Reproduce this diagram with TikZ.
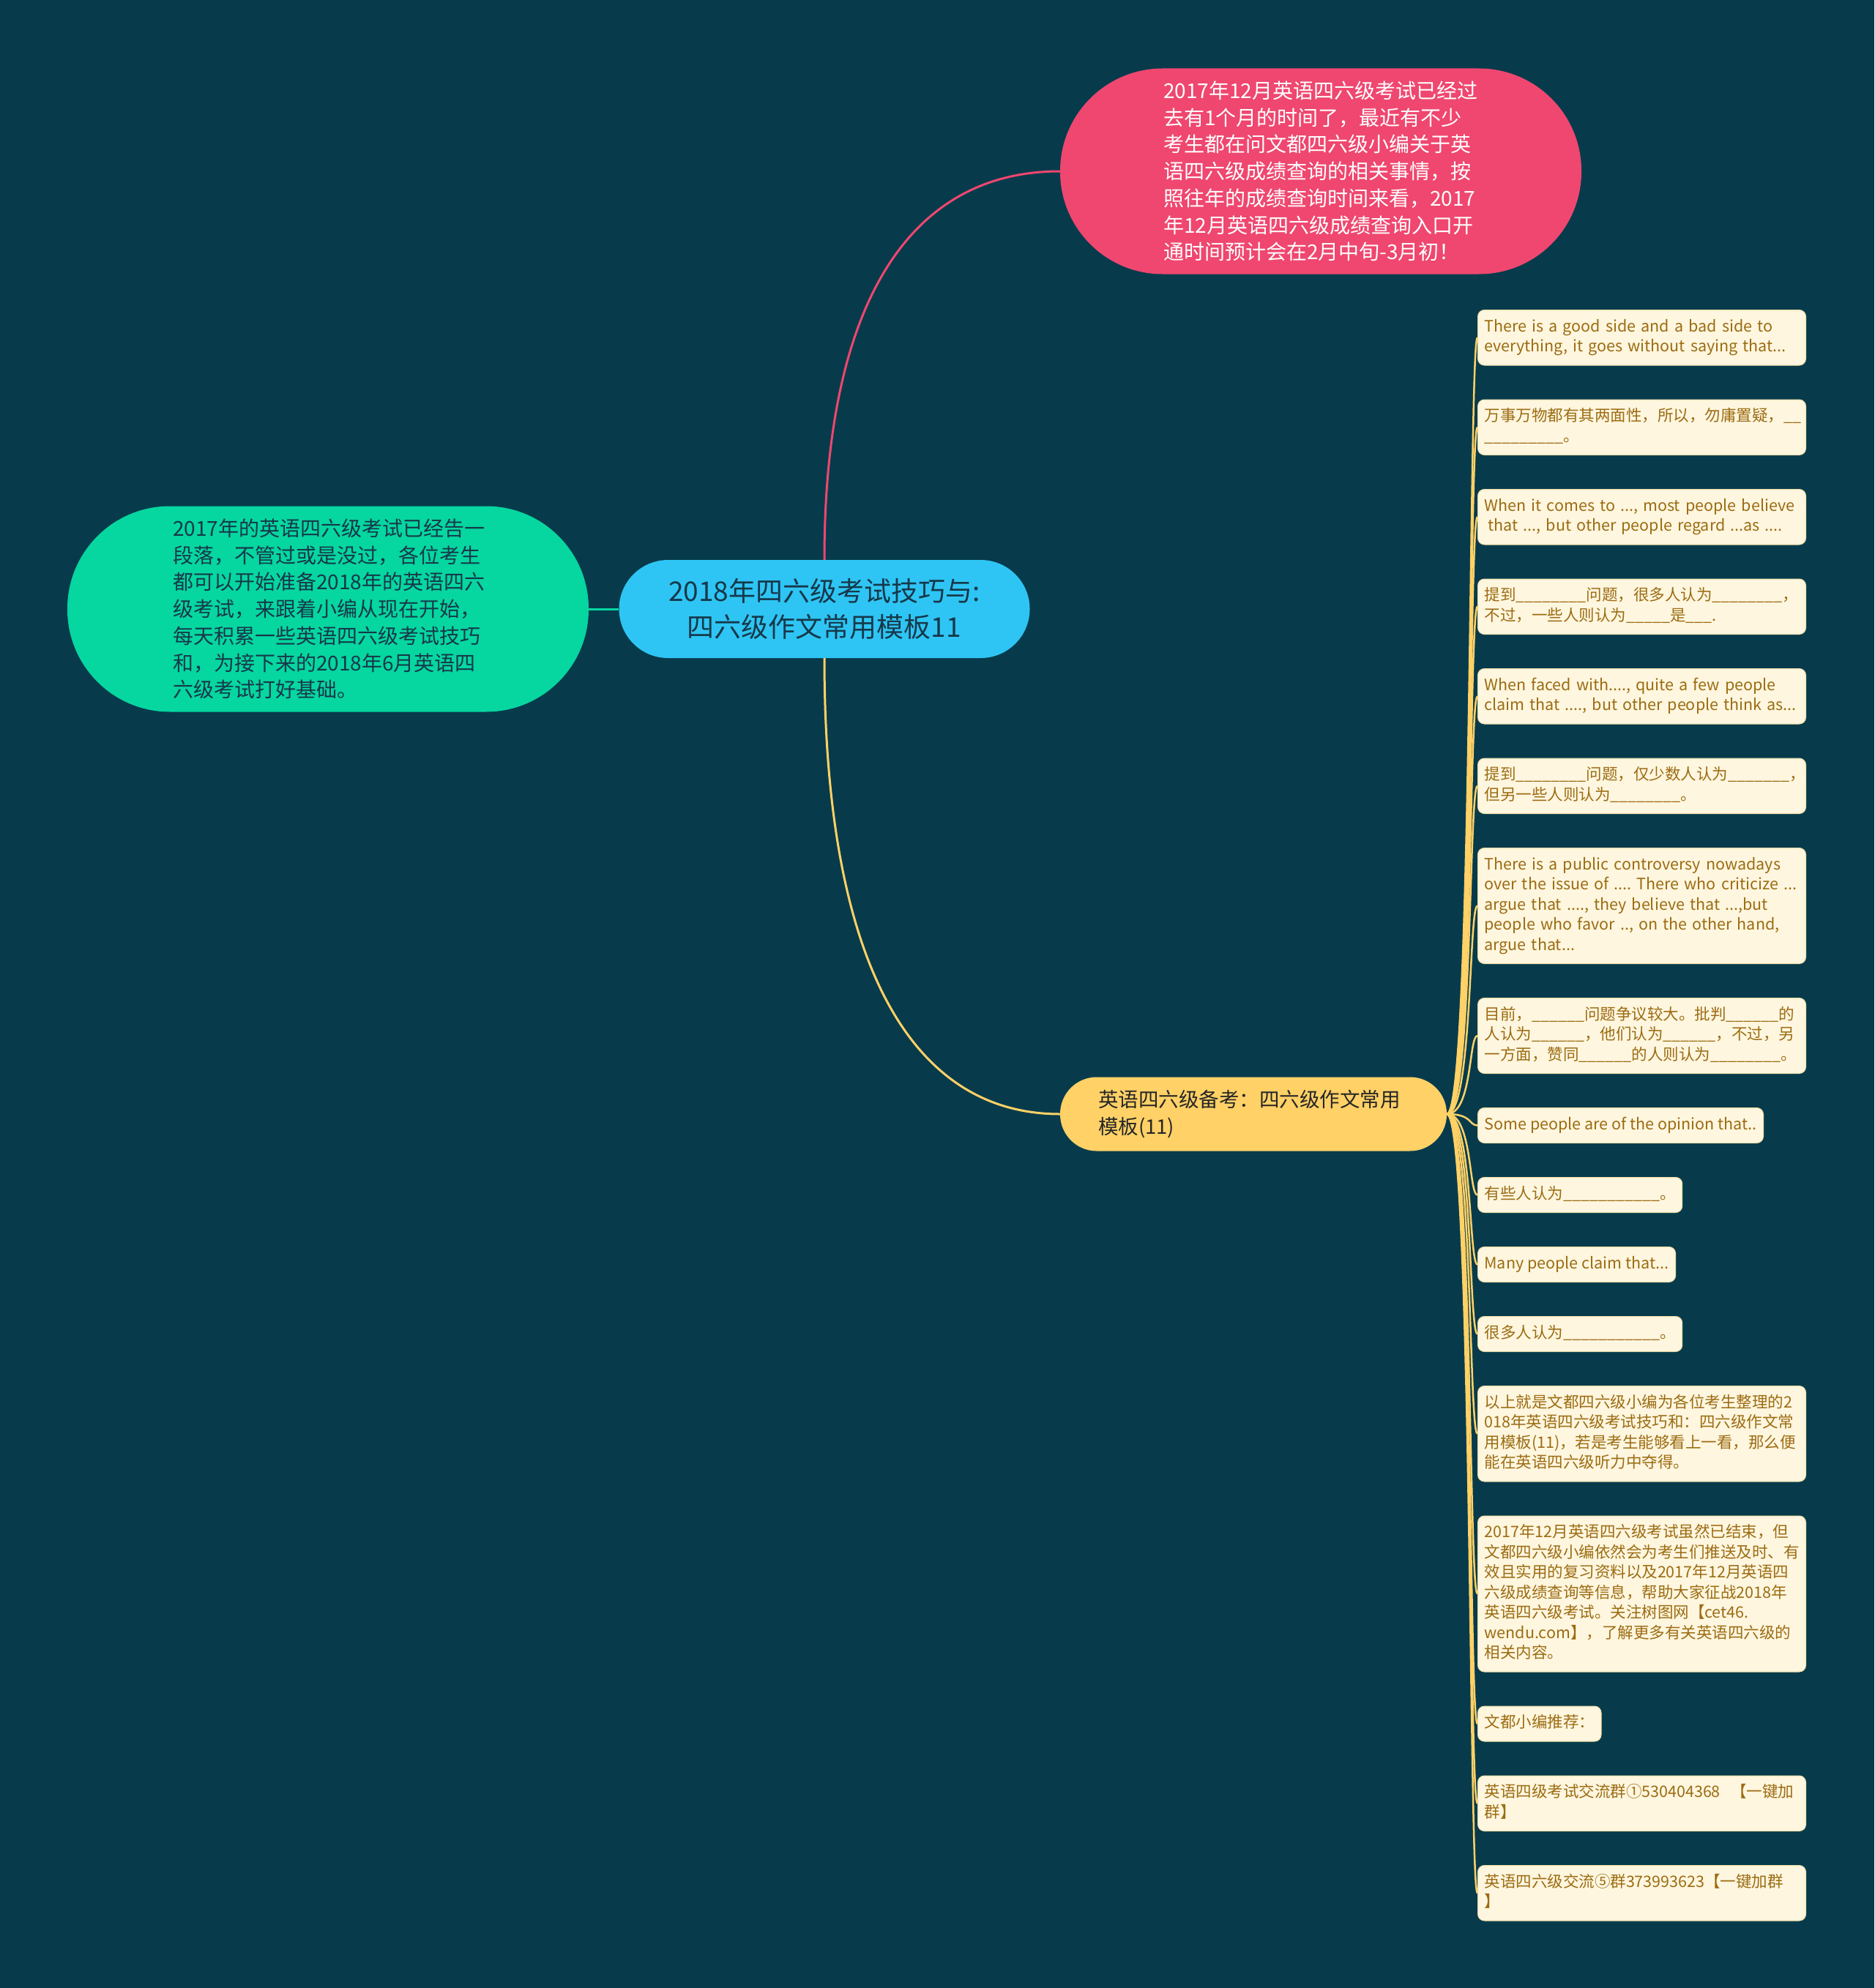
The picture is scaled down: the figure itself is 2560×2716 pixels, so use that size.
\documentclass[tikz,border=0pt]{standalone}
\usepackage{fontspec}
\setmainfont{Noto Sans CJK SC}
\usetikzlibrary{positioning}

\definecolor{bgnavy}{HTML}{073B4C}
\definecolor{rootblue}{HTML}{2EC5F4}
\definecolor{roseside}{HTML}{EF476F}
\definecolor{mintside}{HTML}{06D6A0}
\definecolor{sunside}{HTML}{FFD166}
\definecolor{leafcream}{HTML}{FEF6DF}
\definecolor{leafedge}{HTML}{EFDDA6}
\definecolor{leafink}{HTML}{9C6C12}
\definecolor{darkink}{HTML}{16384A}

\newcommand\fillin[1]{\foreach \k in {1,...,#1}{\_}}

\tikzset{
  pill/.style={rounded corners=#1, inner sep=0pt},
  rootnode/.style={pill=67pt, fill=rootblue, text=darkink, minimum width=561pt, minimum height=134pt,
    align=center, font=\fontsize{37pt}{48.5pt}\selectfont},
  bignode/.style={pill=140pt, minimum width=712pt, minimum height=281pt, text width=430pt,
    align=left, font=\fontsize{28pt}{36.7pt}\selectfont},
  leaf/.style={fill=leafcream, draw=leafedge, line width=1pt, rounded corners=9pt, inner xsep=9pt,
    inner ysep=10.25pt, align=left, text=leafink, font=\fontsize{21.5pt}{27.5pt}\selectfont\frenchspacing,
    execute at begin node=\strut, execute at end node=\strut},
  wideleaf/.style={leaf, text width=430pt},
  next/.style={below right=46pt and 0pt of #1.south west},
  branch/.style={line width=3pt},
  twig/.style={draw=sunside, line width=2.5pt},
}

\begin{document}
\begin{tikzpicture}[x=1pt,y=-1pt]
\fill[bgnavy] (0,0) rectangle (2560,2716);
\useasboundingbox (0,0) rectangle (2560,2716);

\node[rootnode] (root) at (1126,832) {2018年四六级考试技巧与:\\四六级作文常用模板11};
\node[bignode, fill=roseside, text=white] (exam) at (1804,234) {2017年12月英语四六级考试已经过\\去有1个月的时间了，最近有不少\\考生都在问文都四六级小编关于英\\语四六级成绩查询的相关事情，按\\照往年的成绩查询时间来看，2017\\年12月英语四六级成绩查询入口开\\通时间预计会在2月中旬-3月初！};
\node[bignode, fill=mintside, text=darkink, text width=424pt] (prep) at (448,832) {2017年的英语四六级考试已经告一\\段落，不管过或是没过，各位考生\\都可以开始准备2018年的英语四六\\级考试，来跟着小编从现在开始，\\每天积累一些英语四六级考试技巧\\和，为接下来的2018年6月英语四\\六级考试打好基础。};
\node[pill=50pt, fill=sunside, text=black!85, minimum width=528pt, minimum height=101pt, text width=424pt,
  align=left, font=\fontsize{27.5pt}{36.5pt}\selectfont] (plan) at (1712,1522) {英语四六级备考：四六级作文常用\\模板(11)};

% leaves of the template branch
\node[wideleaf, anchor=north west] (l1) at (2018,423) {There is a good side and a bad side to\\everything, it goes without saying that...};
\node[wideleaf, next=l1] (l2) {万事万物都有其两面性，所以，勿庸置疑，\fillin{2}\\\fillin{9}。};
\node[wideleaf, next=l2] (l3) {When it comes to ..., most people believe\\\hspace*{5pt}that ..., but other people regard ...as ....};
\node[wideleaf, next=l3] (l4) {提到\fillin{8}问题，很多人认为\fillin{8}，\\不过，一些人则认为\fillin{5}是\fillin{3}.};
\node[wideleaf, next=l4] (l5) {When faced with...., quite a few people\\claim that ...., but other people think as...};
\node[wideleaf, next=l5] (l6) {提到\fillin{8}问题，仅少数人认为\fillin{7}，\\但另一些人则认为\fillin{8}。};
\node[wideleaf, next=l6] (l7) {There is a public controversy nowadays\\over the issue of .... There who criticize ...\\argue that ...., they believe that ...,but\\people who favor .., on the other hand,\\argue that...};
\node[wideleaf, next=l7] (l8) {目前，\fillin{6}问题争议较大。批判\fillin{6}的\\人认为\fillin{6}，他们认为\fillin{6}，不过，另\\一方面，赞同\fillin{6}的人则认为\fillin{8}。};
\node[leaf, next=l8] (l9) {Some people are of the opinion that..};
\node[leaf, next=l9] (l10) {有些人认为\fillin{11}。};
\node[leaf, next=l10] (l11) {Many people claim that...};
\node[leaf, next=l11] (l12) {很多人认为\fillin{11}。};
\node[wideleaf, next=l12] (l13) {以上就是文都四六级小编为各位考生整理的2\\018年英语四六级考试技巧和：四六级作文常\\用模板(11)，若是考生能够看上一看，那么便\\能在英语四六级听力中夺得。};
\node[wideleaf, next=l13] (l14) {2017年12月英语四六级考试虽然已结束，但\\文都四六级小编依然会为考生们推送及时、有\\效且实用的复习资料以及2017年12月英语四\\六级成绩查询等信息，帮助大家征战2018年\\英语四六级考试。关注树图网【cet46.\\wendu.com】，了解更多有关英语四六级的\\相关内容。};
\node[leaf, next=l14] (l15) {文都小编推荐：};
\node[wideleaf, next=l15] (l16) {英语四级考试交流群①530404368\ \ 【一键加\\群】};
\node[wideleaf, next=l16] (l17) {英语四六级交流⑤群373993623【一键加群\\】};

% branches from the root
\draw[branch, roseside] (root.north) .. controls +(0,-345) and +(-209,0) .. (exam.west);
\draw[branch, sunside] (root.south) .. controls +(0,405) and +(-209,0) .. (plan.west);
\draw[branch, mintside] (root.west) -- (prep.east);
\foreach \n in {1,...,17}
  \draw[twig] (plan.east) .. controls +(35,0) and +(-12,0) .. (l\n.west);
\end{tikzpicture}
\end{document}
